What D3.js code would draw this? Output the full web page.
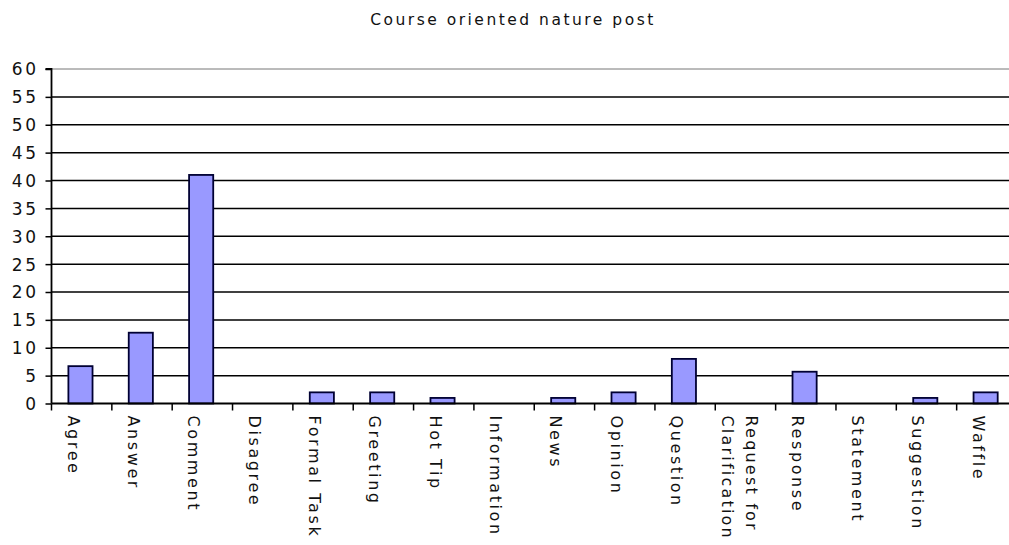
<!DOCTYPE html>
<html><head><meta charset="utf-8">
<script src="https://cdn.jsdelivr.net/npm/d3@7"></script>
<style>
html,body{margin:0;padding:0;background:#fff;overflow:hidden}
text{font-family:"DejaVu Sans",Verdana,sans-serif;fill:#111}
</style></head><body>
<svg id="c" width="1009" height="545"></svg>
<script>
const title = "Course oriented nature post";
const categories = ["Agree","Answer","Comment","Disagree","Formal Task","Greeting","Hot Tip","Information","News","Opinion","Question","Request for Clarification","Response","Statement","Suggestion","Waffle"];
const values = [6.7,12.7,41,0,2,2,1,0,1,2,8,0,5.7,0,1,2];
const yTicks = [0,5,10,15,20,25,30,35,40,45,50,55,60];
const labelLines = {"Request for Clarification":["Request for","Clarification"]};

(function(){
const svg = d3.select("#c");
const pLeft = 51.5, pRight = 1017, pTop = 69, pBottom = 403.5;
const x = d3.scaleBand().domain(categories).range([pLeft, pRight]).paddingInner(0).paddingOuter(0);
const y = d3.scaleLinear().domain([0, 60]).range([pBottom, pTop]);

svg.append("text").attr("x", 513).attr("y", 25).attr("text-anchor","middle")
  .style("font-size","15.5px").style("letter-spacing","2.5px").text(title);

// gridlines
svg.append("g").selectAll("line").data(yTicks.filter(d=>d>0)).join("line")
  .attr("x1", pLeft).attr("x2", 1009).attr("y1", d=>y(d)).attr("y2", d=>y(d))
  .attr("stroke", d=> d===60 ? "#777" : "#000").attr("stroke-width", d=> d===60 ? 1 : 1.5);

// bars
svg.append("g").selectAll("rect").data(categories).join("rect")
  .attr("x", (d)=> x(d) + x.bandwidth()*0.28)
  .attr("width", x.bandwidth()*0.4)
  .attr("y", (d,i)=> y(values[i]))
  .attr("height", (d,i)=> pBottom - y(values[i]))
  .attr("fill", "#9999ff").attr("stroke", "#000033").attr("stroke-width", 1.8)
  .style("display",(d,i)=> values[i] > 0 ? null : "none");

// y axis
const ya = d3.axisLeft(y).tickValues(yTicks).tickSize(6).tickPadding(7);
const gy = svg.append("g").attr("transform", `translate(${pLeft},0)`).call(ya);
gy.select(".domain").attr("stroke","#000").attr("stroke-width",1.8).attr("d", `M-6,${pTop}H0V${pBottom}`);
gy.selectAll(".tick line").attr("stroke","#000").attr("stroke-width",1.5);
gy.selectAll(".tick text").style("font-size","17px").style("letter-spacing","2.5px").attr("fill","#111").attr("dy","0.35em");

// x axis
const xa = d3.axisBottom(x).tickSize(0).tickFormat("");
const gx = svg.append("g").attr("transform", `translate(0,${pBottom})`).call(xa);
gx.select(".domain").attr("stroke","#000").attr("stroke-width",1.8).attr("d", `M${pLeft},0H1009`);
svg.append("g").selectAll("line").data(categories).join("line")
  .attr("x1", d=>x(d)).attr("x2", d=>x(d)).attr("y1", pBottom).attr("y2", pBottom+7)
  .attr("stroke","#000").attr("stroke-width",1.5);

// rotated labels
const lg = svg.append("g");
categories.forEach((c)=>{
  const cx = x(c) + x.bandwidth()/2;
  const lines = labelLines[c] || [c];
  const n = lines.length;
  lines.forEach((ln, j)=>{
    const off = (n === 1) ? -14 : (j === 0 ? 1 : -23);
    lg.append("text")
      .attr("transform", `translate(${cx + off},${pBottom + 12}) rotate(90)`)
      .attr("text-anchor","start")
      .style("font-size","16px").style("letter-spacing", n === 1 ? "2.6px" : "2.2px")
      .text(ln);
  });
});
})();
</script>
</body></html>
